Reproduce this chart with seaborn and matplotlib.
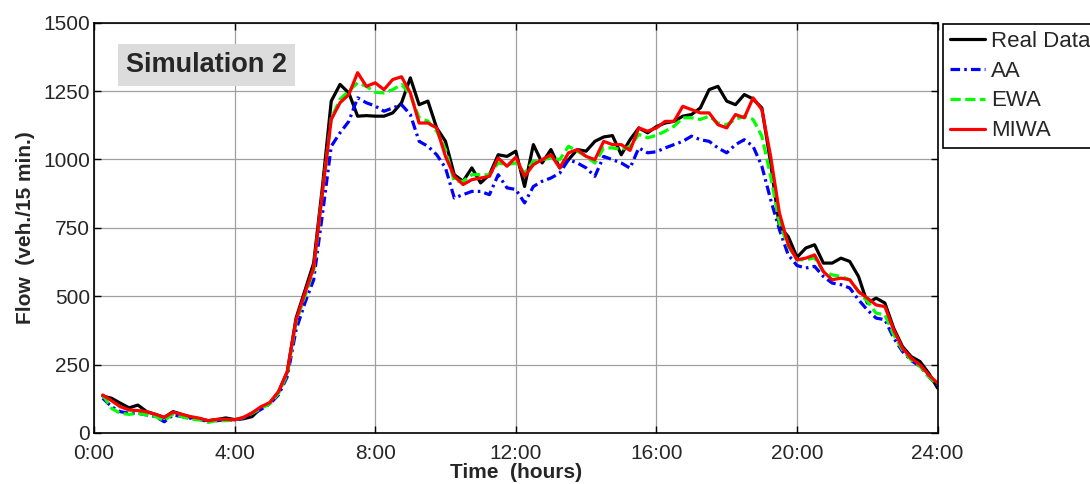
import numpy as np
import pandas as pd
import matplotlib
matplotlib.use("Agg")
import matplotlib.pyplot as plt
import seaborn as sns

# 15-min intervals, 0:15 .. 24:00
hours = np.arange(1, 97) / 4

real_data = [135, 127, 109, 92, 102, 78, 68, 57, 78, 68, 57, 52, 45, 49, 55, 49,
             52, 60, 92, 109, 150, 224, 420, 520, 621, 900, 1213, 1274, 1243, 1158, 1160, 1158,
             1158, 1170, 1207, 1298, 1200, 1213, 1115, 1066, 944, 920, 969, 914, 944, 1017, 1011, 1030,
             901, 1054, 987, 1036, 969, 999, 1036, 1030, 1066, 1082, 1087, 1017, 1072, 1115, 1097, 1120,
             1133, 1139, 1158, 1164, 1188, 1255, 1267, 1213, 1200, 1237, 1221, 1188, 987, 755, 718, 642,
             676, 688, 621, 621, 639, 627, 572, 475, 493, 475, 383, 316, 279, 261, 218, 164]

aa = [127, 96, 78, 72, 72, 66, 60, 41, 66, 60, 54, 50, 41, 45, 48, 48,
      54, 68, 86, 106, 139, 206, 377, 475, 560, 800, 1048, 1097, 1139, 1225, 1207, 1195,
      1176, 1188, 1200, 1164, 1066, 1048, 1017, 969, 859, 871, 883, 883, 871, 944, 896, 890,
      841, 901, 920, 932, 950, 999, 987, 969, 938, 1011, 999, 987, 968, 1042, 1024, 1028,
      1042, 1054, 1066, 1085, 1072, 1066, 1042, 1024, 1054, 1072, 1048, 975, 853, 743, 651, 612,
      603, 609, 572, 548, 542, 530, 487, 450, 420, 414, 347, 298, 265, 243, 206, 174]

ewa = [139, 90, 72, 68, 72, 66, 60, 45, 70, 60, 50, 48, 39, 45, 45, 48,
       57, 72, 90, 106, 145, 215, 405, 500, 595, 880, 1150, 1220, 1250, 1280, 1267, 1245,
       1243, 1255, 1274, 1237, 1152, 1140, 1103, 1036, 920, 920, 944, 944, 944, 987, 981, 987,
       950, 993, 999, 1005, 999, 1048, 1030, 1011, 987, 1042, 1042, 1036, 1048, 1091, 1079, 1088,
       1103, 1121, 1152, 1152, 1146, 1158, 1133, 1127, 1146, 1158, 1146, 1085, 938, 768, 682, 633,
       633, 640, 590, 578, 572, 560, 517, 481, 438, 432, 359, 304, 267, 243, 206, 176]

miwa = [139, 118, 96, 84, 82, 78, 68, 57, 76, 68, 60, 54, 45, 50, 50, 48,
        57, 74, 96, 111, 151, 224, 414, 511, 604, 880, 1146, 1207, 1237, 1317, 1267, 1280,
        1255, 1292, 1302, 1243, 1133, 1133, 1115, 1011, 938, 908, 926, 932, 938, 1005, 975, 1008,
        938, 981, 999, 1017, 969, 1024, 1036, 1011, 999, 1066, 1054, 1054, 1033, 1115, 1103, 1115,
        1139, 1139, 1194, 1182, 1170, 1170, 1127, 1115, 1164, 1152, 1225, 1182, 1011, 804, 688, 633,
        639, 651, 590, 560, 566, 560, 517, 493, 468, 462, 377, 310, 273, 249, 212, 182]

xtick_pos = [0, 4, 8, 12, 16, 20, 24]
xtick_labels = ["0:00", "4:00", "8:00", "12:00", "16:00", "20:00", "24:00"]
ytick_pos = [0, 250, 500, 750, 1000, 1250, 1500]

sns.set_style("whitegrid")
plt.rcParams['font.family'] = ['Liberation Sans', 'DejaVu Sans']

fig, ax = plt.subplots(figsize=(10.9, 4.84), dpi=100)
fig.subplots_adjust(left=0.0862, right=0.8602, top=0.9533, bottom=0.1054)

series = [
    ("Real Data", real_data, "black", "-", 2.3),
    ("AA", aa, "#0000ff", (0, (3, 1.3, 0.8, 1.3)), 2.3),
    ("EWA", ewa, "#00ff00", (0, (3.2, 1.4)), 2.3),
    ("MIWA", miwa, "#ff0000", "-", 2.3),
]
for name, vals, color, ls, lw in series:
    sns.lineplot(x=hours, y=vals, ax=ax, color=color, linestyle=ls,
                 linewidth=lw, label=name)

ax.set_xlim(0, 24)
ax.set_ylim(0, 1500)
ax.set_xticks(xtick_pos)
ax.set_xticklabels(xtick_labels)
ax.set_yticks(ytick_pos)

ax.grid(True, color="#a0a0a0", linewidth=0.9)
for sp in ax.spines.values():
    sp.set_color("black")
    sp.set_linewidth(1.2)
    sp.set_visible(True)
ax.tick_params(axis="both", direction="in", length=5, width=1, color="black",
               labelsize=15, top=True, right=True, bottom=True, left=True)
ax.tick_params(axis="y", pad=3)
ax.tick_params(axis="x", pad=8)

ax.set_xlabel("Time  (hours)", fontsize=15, fontweight="bold", labelpad=0)
ax.set_ylabel("Flow  (veh./15 min.)", fontsize=15, fontweight="bold", labelpad=6)

ax.text(0.1334, 0.896, "Simulation 2", transform=ax.transAxes, ha="center", va="center",
        fontsize=19.5, fontweight="bold",
        bbox=dict(boxstyle="square,pad=0.3", facecolor="#dcdcdc", edgecolor="none"))

leg = ax.legend(loc="upper left", bbox_to_anchor=(943 / 1090, 1 - 24 / 484),
                bbox_transform=fig.transFigure, fontsize=16, frameon=True,
                fancybox=False, shadow=False, framealpha=1, edgecolor="black",
                borderpad=0.3, labelspacing=0.4, handlelength=1.6, handletextpad=0.25,
                borderaxespad=0)
leg.get_frame().set_linewidth(1.2)

fig.savefig("out.png", dpi=100)
